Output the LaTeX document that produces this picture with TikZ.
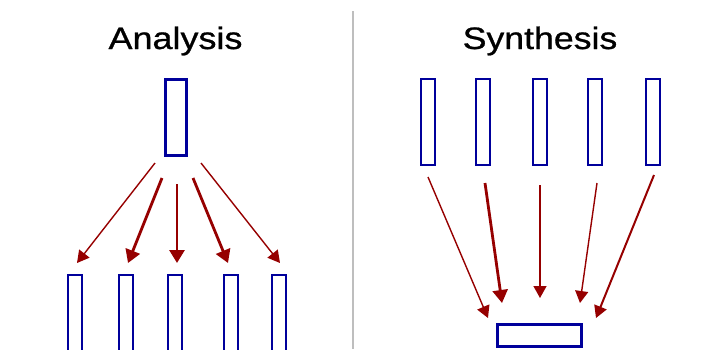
\documentclass[tikz,border=0pt]{standalone}
\usepackage{fontspec}
\setmainfont{Liberation Sans}
\newfontfamily\titlefont[FakeBold=0.8]{Liberation Sans}
\usetikzlibrary{arrows.meta}
\definecolor{boxblue}{RGB}{0,0,155}
\definecolor{arrred}{RGB}{150,0,0}
\definecolor{divgray}{RGB}{190,190,190}
\tikzset{
  bigbox/.style={draw=boxblue,line width=3pt,rectangle,inner sep=0pt},
  smallbox/.style={draw=boxblue,line width=2pt,rectangle,inner sep=0pt,minimum width=14pt},
  thinarr/.style={draw=arrred,line width=1.4pt,-{Triangle[width=13pt,length=12pt]}},
  thickarr/.style={draw=arrred,line width=2.8pt,-{Triangle[width=15pt,length=13pt]}},
  title/.style={anchor=base,inner sep=0pt,font=\titlefont\fontsize{31}{37}\selectfont}
}
\begin{document}
\begin{tikzpicture}[x=1pt,y=-1pt]
\useasboundingbox (0,0) rectangle (702,349);
\clip (0,0) rectangle (702,349);
% divider
\draw[divgray,line width=2pt] (353,11) -- (353,349);
% titles
\node[title] (tA) at (175.5,49) {\scalebox{1.16}[1]{Analysis}};
\node[title] (tS) at (540,49) {\scalebox{1.15}[1]{Synthesis}};
% Analysis
\node[bigbox,minimum width=21pt,minimum height=76pt] (atop) at (176,117.5) {};
\foreach \x/\n in {75/a1,125.5/a2,174.5/a3,230.5/a4,278.5/a5}
  \node[smallbox,minimum height=100pt,anchor=north] (\n) at (\x,274) {};
\coordinate (as1) at (155,163); \coordinate (ae1) at (77,263);
\coordinate (as2) at (162,178); \coordinate (ae2) at (128,263);
\coordinate (as3) at (177,184); \coordinate (ae3) at (177,263);
\coordinate (as4) at (193,178); \coordinate (ae4) at (228,263);
\coordinate (as5) at (201,163); \coordinate (ae5) at (280,263);
\draw[thinarr] (as1) -- (ae1);
\draw[thickarr] (as2) -- (ae2);
\draw[thickarr] (as3) -- (ae3);
\draw[thickarr] (as4) -- (ae4);
\draw[thinarr] (as5) -- (ae5);
% Synthesis
\foreach \x/\n in {427.5/s1,482.5/s2,540/s3,595/s4,652.5/s5}
  \node[smallbox,minimum height=86pt] (\n) at (\x,122) {};
\node[bigbox,minimum width=84pt,minimum height=22pt] (sbot) at (539,335) {};
\coordinate (ss1) at (428,177); \coordinate (se1) at (488,318);
\coordinate (ss2) at (485,183); \coordinate (se2) at (502,303);
\coordinate (ss3) at (540,185); \coordinate (se3) at (540,298);
\coordinate (ss4) at (597,183); \coordinate (se4) at (580,303);
\coordinate (ss5) at (654,175); \coordinate (se5) at (596,318);
\draw[thinarr] (ss1) -- (se1);
\draw[thickarr] (ss2) -- (se2);
\draw[thinarr] (ss3) -- (se3);
\draw[thinarr] (ss4) -- (se4);
\draw[thinarr,line width=2pt] (ss5) -- (se5);
\end{tikzpicture}
\end{document}
